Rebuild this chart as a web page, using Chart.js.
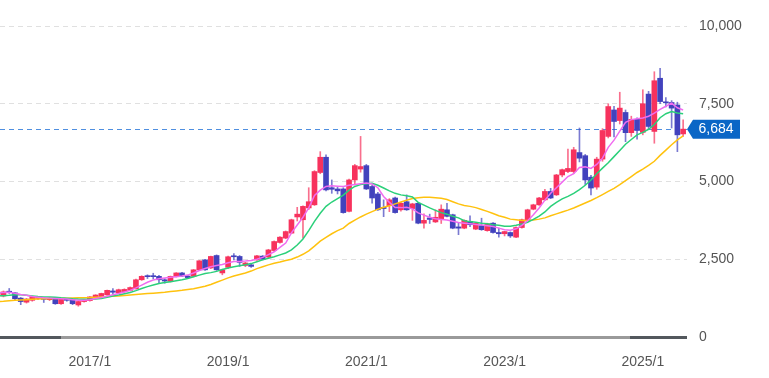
<!DOCTYPE html>
<html><head><meta charset="utf-8">
<script src="https://cdn.jsdelivr.net/npm/chart.js@4.4.1/dist/chart.umd.min.js"></script>
<style>html,body{margin:0;padding:0;background:#fff;}#wrap{width:769px;height:378px;}</style>
</head><body><div id="wrap"><canvas id="c" width="769" height="378"></canvas></div>
<script>
const months = [
'2015/9','2015/10','2015/11','2015/12',
'2016/1','2016/2','2016/3','2016/4','2016/5','2016/6','2016/7','2016/8','2016/9','2016/10','2016/11','2016/12',
'2017/1','2017/2','2017/3','2017/4','2017/5','2017/6','2017/7','2017/8','2017/9','2017/10','2017/11','2017/12',
'2018/1','2018/2','2018/3','2018/4','2018/5','2018/6','2018/7','2018/8','2018/9','2018/10','2018/11','2018/12',
'2019/1','2019/2','2019/3','2019/4','2019/5','2019/6','2019/7','2019/8','2019/9','2019/10','2019/11','2019/12',
'2020/1','2020/2','2020/3','2020/4','2020/5','2020/6','2020/7','2020/8','2020/9','2020/10','2020/11','2020/12',
'2021/1','2021/2','2021/3','2021/4','2021/5','2021/6','2021/7','2021/8','2021/9','2021/10','2021/11','2021/12',
'2022/1','2022/2','2022/3','2022/4','2022/5','2022/6','2022/7','2022/8','2022/9','2022/10','2022/11','2022/12',
'2023/1','2023/2','2023/3','2023/4','2023/5','2023/6','2023/7','2023/8','2023/9','2023/10','2023/11','2023/12',
'2024/1','2024/2','2024/3','2024/4','2024/5','2024/6','2024/7','2024/8','2024/9','2024/10','2024/11','2024/12',
'2025/1','2025/2','2025/3','2025/4','2025/5','2025/6','2025/7','2025/8'];

const open = [
1380,1320,1470,1420,1250,1120,1180,1240,1230,1200,
1250,1070,1210,1200,1030,1140,1170,1260,1300,1360,
1480,1420,1460,1500,1550,1840,1960,1960,1950,1840,
1790,1950,2060,1960,1950,2160,2480,2220,2620,2060,
2240,2600,2590,2300,2320,2480,2600,2570,2780,3040,
3180,3340,3860,3770,4150,4250,5290,5780,4800,4760,
4760,4040,5050,5400,5510,4840,4600,4170,4220,4470,
4090,4350,4130,4300,3660,3830,3700,3790,4090,3930,
3540,3500,3720,3470,3580,3420,3660,3360,3320,3360,
3210,3520,3770,4110,4250,4410,4680,4570,5210,5320,
5320,5930,5830,5140,4820,5720,6450,7300,6960,7220,
6570,7000,6580,7810,6610,8320,7560,7540,7460,6530];

const high = [
1450,1480,1560,1440,1270,1240,1310,1300,1260,1270,
1260,1240,1230,1210,1150,1200,1300,1360,1410,1510,
1560,1540,1550,1610,1860,1970,2000,2050,1980,1880,
1960,2070,2080,1980,2170,2460,2500,2600,2640,2180,
2600,2680,2620,2400,2340,2630,2620,2820,3090,3230,
3410,3790,4170,4220,4800,5350,5960,5860,5050,4830,
4800,5080,5550,6450,5550,4880,4650,4410,4450,4500,
4320,4570,4300,4320,3960,3950,4090,4250,4300,3950,
3660,3770,3900,3680,3820,3660,3680,3500,3400,3380,
3540,3790,4110,4270,4490,4750,4780,5230,5400,6040,
6100,6720,5870,5200,5780,6700,7500,7420,7870,7300,
7100,7050,7950,7900,8530,8640,7700,7600,7550,6980];

const low = [
1330,1290,1400,1200,1040,1090,1150,1200,1110,1170,
1050,1050,1150,1040,990,1120,1150,1240,1280,1340,
1380,1400,1440,1480,1540,1820,1880,1870,1740,1730,
1770,1930,1940,1880,1930,2140,2140,2200,2140,2000,
2200,2480,2270,2260,2240,2460,2480,2550,2760,3020,
3160,3320,3730,3180,4100,4230,5250,4700,4620,4600,
3980,4020,4890,5300,4740,4300,4070,3870,4030,3980,
4050,4070,3750,3640,3500,3650,3680,3650,3860,3480,
3290,3480,3550,3450,3430,3400,3340,3210,3250,3200,
3190,3500,3750,4090,4230,4390,4450,4550,5150,5280,
5250,5630,4900,4570,4750,5650,6400,6430,6850,6280,
6450,6360,6500,6700,6230,7500,7400,6720,5960,6450];

const close = [
1420,1450,1440,1230,1140,1220,1290,1270,1210,1240,
1070,1220,1180,1070,1140,1180,1290,1350,1400,1500,
1440,1520,1530,1590,1840,1950,1940,1940,1840,1800,
1950,2060,1960,1910,2160,2450,2160,2590,2160,2160,
2580,2580,2400,2380,2270,2610,2500,2800,3070,3210,
3390,3770,3950,4200,4350,5320,5780,4730,4750,4700,
4000,5050,5510,5480,4760,4470,4090,4130,4410,4000,
4300,4090,4280,3660,3750,3780,3850,4110,3880,3500,
3500,3750,3610,3660,3450,3640,3360,3320,3390,3250,
3520,3770,4090,4250,4470,4680,4470,5210,5380,5420,
6020,5750,5050,4790,5720,6640,7410,6930,7360,6570,
7000,6640,7500,6770,8240,7570,7530,7360,6500,6684];

const maShort = [
1420,1430,1440,1410,1370,1340,1300,1280,1260,1250,
1240,1230,1220,1200,1180,1180,1200,1240,1270,1310,
1360,1400,1450,1500,1580,1670,1760,1830,1870,1900,
1920,1940,1960,1990,2060,2140,2200,2260,2300,2330,
2390,2430,2430,2440,2460,2500,2560,2650,2740,2880,
3020,3350,3600,3850,4150,4550,4720,4840,4860,4850,
4840,4880,4900,4930,4950,4920,4800,4520,4330,4160,
4160,4170,4120,3990,3920,3850,3800,3780,3760,3720,
3680,3660,3640,3620,3600,3580,3550,3500,3450,3430,
3480,3590,3740,3930,4150,4400,4620,4800,4980,5160,
5250,5450,5470,5420,5550,5750,6100,6330,6620,6900,
6990,7020,7040,7100,7200,7320,7420,7520,7370,7300];

const maMid = [
1320,1330,1340,1355,1355,1340,1320,1300,1290,1285,
1280,1260,1245,1230,1220,1215,1215,1220,1240,1280,
1320,1350,1390,1430,1490,1560,1620,1670,1720,1750,
1780,1810,1840,1880,1940,1990,2040,2070,2110,2170,
2220,2260,2290,2320,2360,2420,2480,2530,2580,2640,
2700,2800,2960,3150,3420,3720,3980,4200,4340,4450,
4560,4720,4840,4900,4930,4940,4880,4790,4700,4620,
4570,4540,4500,4330,4240,4150,4070,4000,3950,3880,
3830,3740,3710,3690,3660,3640,3610,3590,3560,3560,
3590,3630,3690,3780,3890,4020,4200,4330,4440,4520,
4620,4740,4880,5050,5250,5430,5600,5800,6000,6200,
6350,6500,6580,6680,6830,7050,7180,7250,7200,7180];

const maLong = [
1140,1150,1165,1180,1190,1200,1210,1220,1228,1235,
1240,1245,1250,1255,1260,1265,1270,1280,1290,1300,
1310,1320,1335,1350,1365,1380,1395,1410,1425,1440,
1460,1480,1500,1525,1550,1590,1630,1690,1760,1830,
1900,1960,2010,2060,2120,2200,2260,2320,2370,2410,
2460,2500,2570,2660,2770,2920,3080,3200,3320,3420,
3500,3650,3760,3860,3950,4030,4110,4170,4220,4280,
4340,4400,4450,4480,4490,4490,4480,4460,4420,4350,
4280,4230,4200,4160,4100,4040,3970,3900,3850,3790,
3770,3750,3750,3760,3790,3830,3900,3960,4020,4080,
4150,4230,4310,4390,4480,4580,4680,4780,4900,5030,
5160,5290,5400,5520,5650,5840,6010,6180,6340,6470];

const tickLabels = ['2017/1','2019/1','2021/1','2023/1','2025/1'];
const yTicks = [0, 2500, 5000, 7500, 10000];
const lastPrice = 6684;

const base = months.indexOf('2017/1');
const xs = months.map((m, i) => i - base);
const UP = '#f7325d', DOWN = '#4242bd';
const bodyColors = close.map((c, i) => c >= open[i] ? UP : DOWN);
const wickColors = close.map((c, i) => c >= open[i] ? 'rgba(247,50,93,0.7)' : 'rgba(66,66,189,0.7)');
const FONT = '"Liberation Sans", Arial, sans-serif';

const pricePlugin = {
  id: 'price',
  beforeDatasetsDraw(chart) {
    const {ctx, chartArea: a, scales: {y}} = chart;
    const py = Math.round(y.getPixelForValue(lastPrice));
    ctx.save();
    ctx.fillStyle = '#4f8fe0';
    for (let x = a.left; x < a.right; x += 9) {
      ctx.fillRect(x, py, Math.min(5, a.right - x), 1);
    }
    ctx.restore();
  },
  afterDraw(chart) {
    const {ctx, chartArea: a, scales: {y}} = chart;
    const by = Math.round(y.getPixelForValue(0)) + 0.5;
    ctx.save();
    ctx.setLineDash([]);
    ctx.lineWidth = 3;
    ctx.strokeStyle = '#9a9a9a';
    ctx.beginPath(); ctx.moveTo(a.left, by); ctx.lineTo(a.right, by); ctx.stroke();
    ctx.strokeStyle = '#53585d';
    ctx.beginPath(); ctx.moveTo(a.left, by); ctx.lineTo(a.left + 61, by); ctx.stroke();
    ctx.beginPath(); ctx.moveTo(a.right - 57, by); ctx.lineTo(a.right, by); ctx.stroke();
    const py = y.getPixelForValue(lastPrice);
    ctx.fillStyle = '#0a66c6';
    ctx.beginPath();
    ctx.moveTo(a.right, py);
    ctx.lineTo(a.right + 6, py - 9.5);
    ctx.lineTo(a.right + 53, py - 9.5);
    ctx.lineTo(a.right + 53, py + 9.5);
    ctx.lineTo(a.right + 6, py + 9.5);
    ctx.closePath(); ctx.fill();
    ctx.fillStyle = '#ffffff';
    ctx.font = '14px ' + FONT;
    ctx.textAlign = 'center'; ctx.textBaseline = 'middle';
    ctx.fillText(lastPrice.toLocaleString('en-US'), a.right + 29, py + 0.5);
    ctx.restore();
  }
};

const line = (arr, color) => ({
  type: 'line', data: arr.map((v, i) => ({x: xs[i], y: v})),
  borderColor: color, borderWidth: 1.5, pointRadius: 0, tension: 0, order: 0
});

new Chart(document.getElementById('c'), {
  type: 'bar',
  data: {
    datasets: [
      line(maShort, '#f06cf0'),
      line(maMid, '#2bd07a'),
      line(maLong, '#ffc20e'),
      { type: 'bar', data: xs.map((x, i) => ({x, y: [open[i], close[i]]})),
        backgroundColor: bodyColors, barThickness: 5, grouped: false, minBarLength: 1, order: 1 },
      { type: 'bar', data: xs.map((x, i) => ({x, y: [low[i], high[i]]})),
        backgroundColor: wickColors, barThickness: 1, grouped: false, order: 2 }
    ]
  },
  options: {
    responsive: false, animation: false, devicePixelRatio: 1,
    layout: {padding: {top: 26, left: 0, right: 0, bottom: 0}},
    plugins: {legend: {display: false}, tooltip: {enabled: false}},
    scales: {
      x: {
        type: 'linear', min: -15.6, max: 103.67, offset: false, bounds: 'ticks',
        afterBuildTicks: s => { s.ticks = tickLabels.map(l => ({value: months.indexOf(l) - base})); },
        afterFit: s => { s.height = 41; },
        grid: {display: false, offset: false}, border: {display: false},
        ticks: {padding: 9, color: '#555', font: {size: 14, family: FONT}, maxRotation: 0,
          callback: v => months[v + base]}
      },
      y: {
        position: 'right', min: 0, max: 10000,
        afterBuildTicks: s => { s.ticks = yTicks.map(v => ({value: v})); },
        afterFit: s => { s.width = 82; },
        grid: {drawTicks: false, color: c => c.tick && c.tick.value === 0 ? 'rgba(0,0,0,0)' : '#e0e0e0'},
        border: {display: false, dash: [5, 4]},
        ticks: {padding: 12, color: '#555', font: {size: 14, family: FONT},
          callback: v => v.toLocaleString('en-US')}
      }
    }
  },
  plugins: [pricePlugin]
});
</script></body></html>
